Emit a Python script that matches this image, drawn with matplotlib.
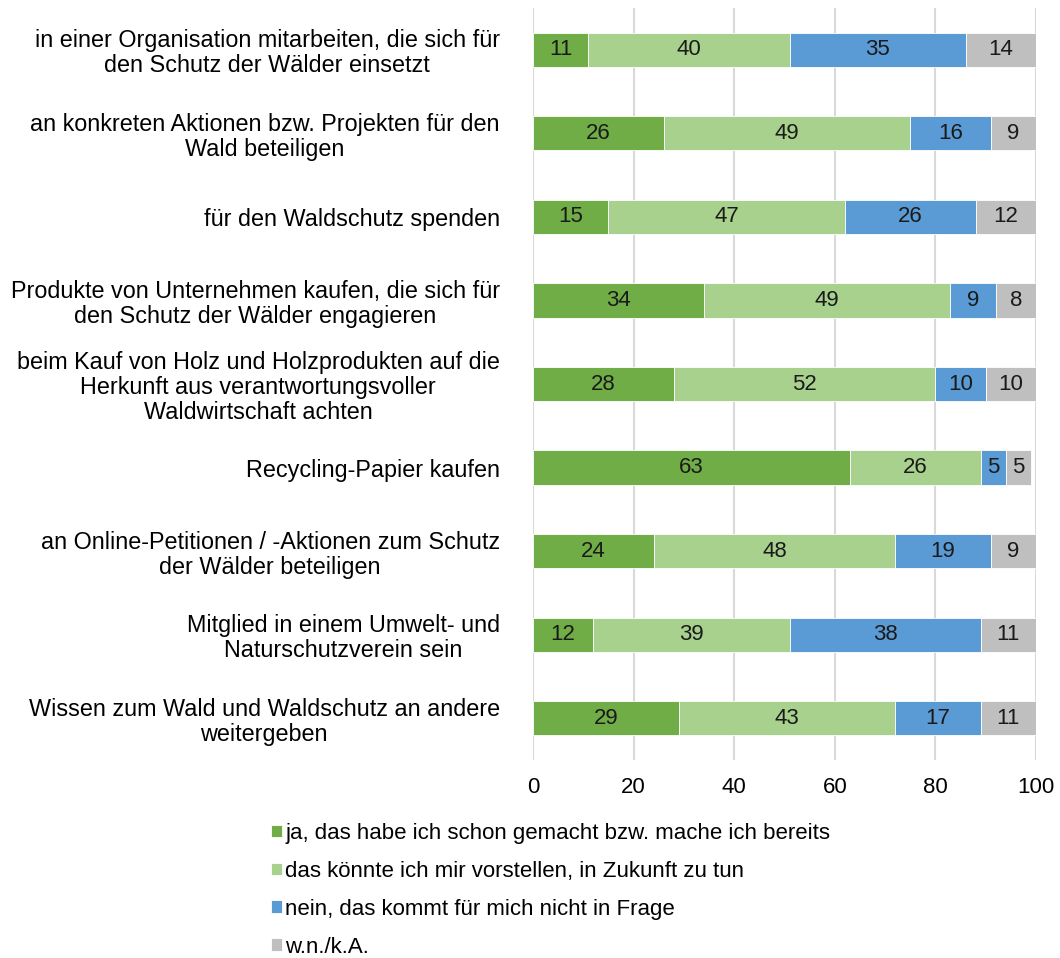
import numpy as np
import matplotlib
matplotlib.use("Agg")
from matplotlib import pyplot as plt

# data
categories = [
    "in einer Organisation mitarbeiten, die sich für\nden Schutz der Wälder einsetzt",
    "an konkreten Aktionen bzw. Projekten für den\nWald beteiligen",
    "für den Waldschutz spenden",
    "Produkte von Unternehmen kaufen, die sich für\nden Schutz der Wälder engagieren",
    "beim Kauf von Holz und Holzprodukten auf die\nHerkunft aus verantwortungsvoller\nWaldwirtschaft achten",
    "Recycling-Papier kaufen",
    "an Online-Petitionen / -Aktionen zum Schutz\nder Wälder beteiligen",
    "Mitglied in einem Umwelt- und\nNaturschutzverein sein",
    "Wissen zum Wald und Waldschutz an andere\nweitergeben",
]
ja = [11, 26, 15, 34, 28, 63, 24, 12, 29]
vorstellen = [40, 49, 47, 49, 52, 26, 48, 39, 43]
nein = [35, 16, 26, 9, 10, 5, 19, 38, 17]
wnka = [14, 9, 12, 8, 10, 5, 9, 11, 11]

series_names = [
    "ja, das habe ich schon gemacht bzw. mache ich bereits",
    "das könnte ich mir vorstellen, in Zukunft zu tun",
    "nein, das kommt für mich nicht in Frage",
    "w.n./k.A.",
]
colors = ["#70AD47", "#A9D18E", "#5B9BD5", "#BFBFBF"]
xticks = [0, 20, 40, 60, 80, 100]

plt.rcParams['font.family'] = ['Liberation Sans', 'DejaVu Sans']

fig = plt.figure(figsize=(10.6, 9.58), dpi=100)
ax = fig.add_axes([533 / 1060, 1 - 760 / 958, 503 / 1060, 752 / 958])

y = np.arange(len(categories))
left = np.zeros(len(categories))
for vals, name, col in zip([ja, vorstellen, nein, wnka], series_names, colors):
    vals = np.array(vals)
    bars = ax.barh(y, vals, left=left, height=0.41, color=col, label=name,
                   edgecolor="white", linewidth=0.6, zorder=3)
    ax.bar_label(bars, labels=[str(v) for v in vals], label_type="center",
                 fontsize=16, color="#1a1a1a")
    left += vals

ax.set_ylim(len(categories) - 0.5, -0.5)
ax.set_xlim(0, 100)
ax.set_xticks(xticks)
ax.set_yticks(y)
ax.set_yticklabels(categories, fontsize=16.8)
for lab in ax.get_yticklabels():
    lab.set_multialignment("center")
    lab.set_linespacing(1.12)
ax.tick_params(axis="y", length=0, pad=24)
ax.tick_params(axis="x", length=0, pad=12, labelsize=16)
ax.grid(axis="x", color="#D9D9D9", linewidth=1.5, zorder=0)
for s in ax.spines.values():
    s.set_visible(False)

leg = fig.legend(loc="upper left", bbox_to_anchor=(262 / 1060, 1 - 814 / 958),
                 frameon=False, fontsize=16, handlelength=0.5, handleheight=0.5,
                 handletextpad=0.15, labelspacing=0.76, borderaxespad=0)

fig.savefig("out.png", dpi=100)
